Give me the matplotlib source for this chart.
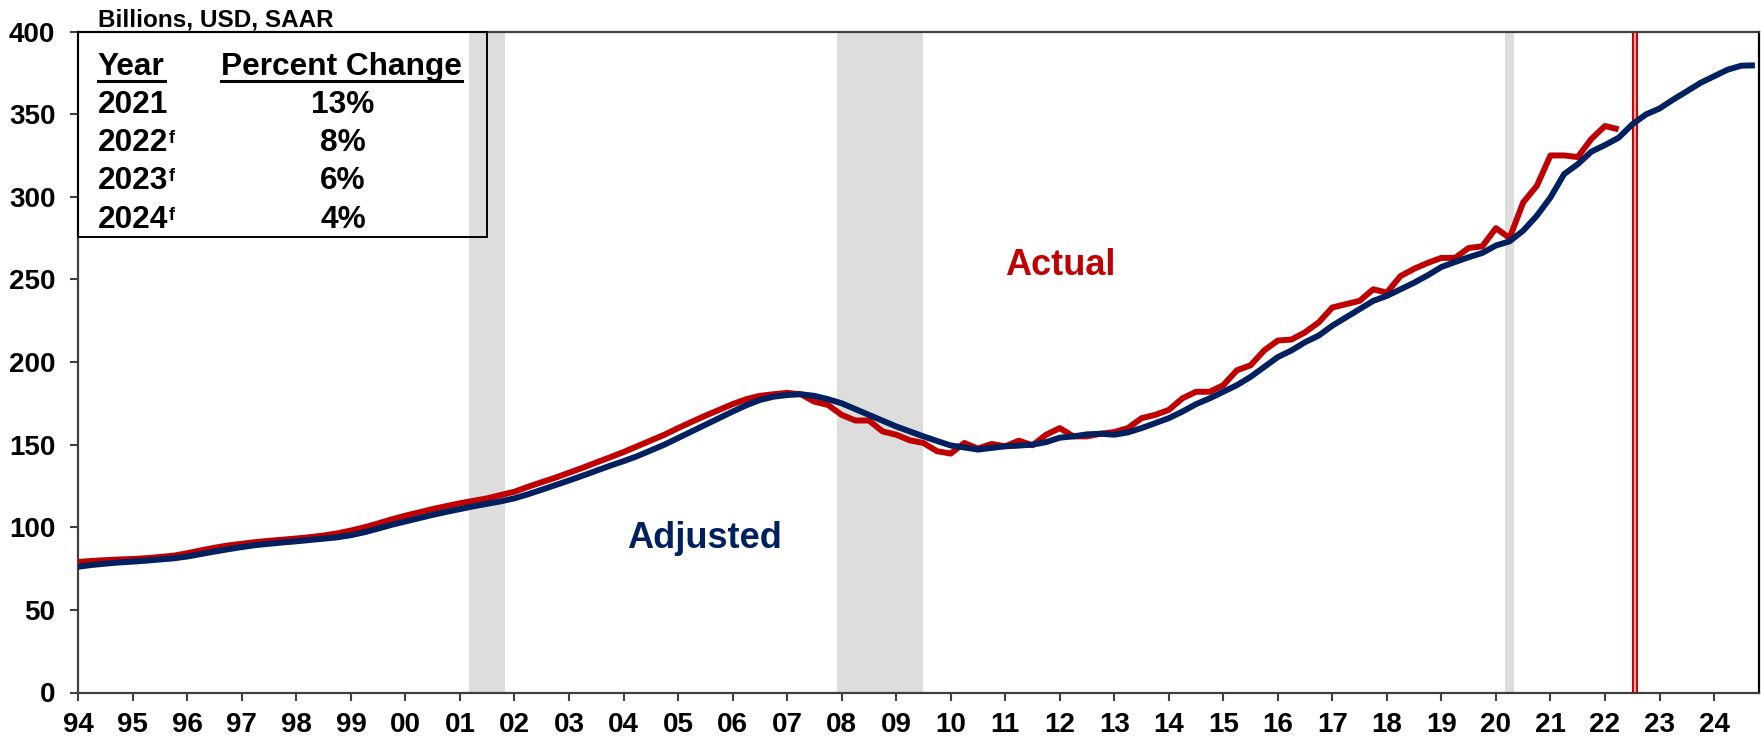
import numpy as np
import matplotlib
matplotlib.use("Agg")
import matplotlib.pyplot as plt
from matplotlib.lines import Line2D
from matplotlib.patches import Rectangle

plt.rcParams['font.family'] = ['Liberation Sans', 'DejaVu Sans']
plt.rcParams['font.weight'] = 'bold'

# quarterly data, 1994Q1 onward (billions USD, SAAR)
adjusted = [
    76.1, 77.2, 78.0, 78.7,
    79.2, 79.8, 80.5, 81.2,
    82.3, 83.8, 85.3, 86.7,
    88.0, 89.2, 90.0, 90.8,
    91.5, 92.3, 93.1, 93.9,
    95.2, 97.0, 99.2, 101.5,
    103.5, 105.5, 107.5, 109.3,
    111.0, 112.7, 114.2, 115.7,
    117.5, 120.0, 122.7, 125.5,
    128.3, 131.2, 134.2, 137.2,
    140.0, 143.0, 146.5, 150.0,
    154.0, 158.0, 162.0, 166.0,
    170.0, 173.8, 177.0, 179.0,
    180.0, 180.5, 179.5, 177.5,
    175.0, 171.5, 168.0, 164.5,
    161.0, 158.0, 155.0, 152.2,
    149.5, 148.3, 147.0, 148.0,
    149.0, 149.4, 150.0, 151.5,
    154.2, 155.0, 156.2, 156.6,
    156.0, 157.4, 160.0, 163.0,
    166.0, 170.0, 174.5, 178.0,
    182.0, 186.0, 191.0, 197.0,
    203.0, 207.0, 212.0, 216.0,
    222.0, 227.0, 232.0, 237.0,
    240.0, 244.0, 248.0, 252.5,
    257.5, 260.5, 263.4, 266.0,
    270.5, 273.0, 279.5, 288.5,
    299.6, 313.7, 319.7, 327.3,
    331.3, 335.7, 343.8, 349.8,
    353.4, 358.8, 363.8, 368.9,
    372.9, 376.9, 379.3, 379.5,
]
actual = [
    79.0, 79.6, 80.1, 80.5,
    80.8, 81.3, 82.0, 82.8,
    84.3, 86.0, 87.6, 89.0,
    90.0, 91.0, 91.8, 92.5,
    93.2, 94.0, 95.0, 96.3,
    98.0, 100.0, 102.3, 104.8,
    107.0, 109.0, 111.0, 112.8,
    114.5, 116.0, 117.5, 119.5,
    121.5, 124.5, 127.3, 130.0,
    133.0, 136.0, 139.2, 142.3,
    145.5, 149.0, 152.5, 156.0,
    160.0, 163.8, 167.5, 171.0,
    174.5, 177.5, 179.5, 180.5,
    181.3, 180.5, 176.0, 174.0,
    168.0, 164.6, 164.6, 158.0,
    156.0, 152.6, 151.0, 146.0,
    144.6, 151.0, 147.6, 150.4,
    149.0, 152.4, 149.6, 156.0,
    160.0, 155.0, 155.0, 156.6,
    157.6, 160.0, 166.0, 168.0,
    171.0, 178.0, 182.0, 182.0,
    186.0, 195.0, 198.0, 207.0,
    213.0, 213.6, 218.0, 224.0,
    233.0, 235.0, 237.0, 244.0,
    242.0, 252.0, 256.4, 260.0,
    263.0, 263.0, 269.0, 270.0,
    281.0, 275.0, 296.6, 306.6,
    325.0, 325.0, 324.0, 335.0,
    342.8, 340.8,
]
start_year = 1994
recessions = [(2001.17, 2001.83), (2007.92, 2009.5), (2020.17, 2020.33)]
forecast_line = 2022.55
tick_years = list(range(1994, 2025))
tick_labels = ['94', '95', '96', '97', '98', '99', '00', '01', '02', '03',
               '04', '05', '06', '07', '08', '09', '10', '11', '12', '13',
               '14', '15', '16', '17', '18', '19', '20', '21', '22', '23', '24']
table_years = ['2021', '2022', '2023', '2024']
table_forecast = [False, True, True, True]
table_changes = ['13%', '8%', '6%', '4%']

red = '#C00000'
navy = '#002060'
W, H = 1761, 740

t_adj = start_year + np.arange(len(adjusted)) / 4
t_act = start_year + np.arange(len(actual)) / 4

fig = plt.figure(figsize=(W / 100, H / 100), dpi=100)
ax = fig.add_axes([78.3 / W, 1 - 692.5 / H, (1759.3 - 78.3) / W, (692.5 - 31.5) / H])

for a, b in recessions:
    ax.axvspan(a, b, color='#DDDDDD', lw=0, zorder=0)

ax.axvline(forecast_line, color=red, lw=4.4, zorder=1)
ax.axvline(forecast_line, color='#E8A3A3', lw=1.6, zorder=1.1)

ax.plot(t_act, actual, color=red, lw=4.3, zorder=3, solid_capstyle='butt')
ax.plot(t_adj, adjusted, color=navy, lw=4.3, zorder=4, solid_capstyle='butt')

ax.set_xlim(1994, 2024.83)
ax.set_ylim(0, 400)
ax.set_yticks(np.arange(0, 401, 50))
ax.set_xticks(tick_years)
ax.set_xticklabels(tick_labels)
ax.tick_params(axis='both', colors='#404040', width=1.5, labelcolor='black', labelsize=20)
ax.tick_params(axis='y', length=5.5, pad=11)
ax.tick_params(axis='x', length=6, pad=8)
for s in ['left', 'bottom', 'top']:
    ax.spines[s].set_color('#404040')
    ax.spines[s].set_linewidth(1.6)
ax.spines['right'].set_color('black')
ax.spines['right'].set_linewidth(1.6)

fig.text(1005 / W, 1 - 275 / H, 'Actual', fontsize=26, color=red, va='baseline')
fig.text(627 / W, 1 - 548 / H, 'Adjusted', fontsize=26, color=navy, va='baseline')

fig.text(98 / W, 1 - 27 / H, 'Billions, USD, SAAR', fontsize=17.5, va='baseline')

# table box
fig.add_artist(Rectangle((78.3 / W, 1 - 237 / H), (487 - 78.3) / W, (237 - 31.7) / H,
                         transform=fig.transFigure, fill=False, ec='black', lw=1.4, zorder=5))

hdr_y = 75
h1 = fig.text(98 / W, 1 - hdr_y / H, 'Year', fontsize=22.8, va='baseline')
h2 = fig.text(221 / W, 1 - hdr_y / H, 'Percent Change', fontsize=22.8, va='baseline')
row_y = [112.7, 151.0, 189.3, 227.6]
for yr, fc, ch, y in zip(table_years, table_forecast, table_changes, row_y):
    t = fig.text(98 / W, 1 - y / H, yr, fontsize=22.8, va='baseline')
    if fc:
        fig.add_artist(plt.Annotation('f', xy=(1, 1), xycoords=t, xytext=(0.3, -1.5),
                                      textcoords='offset points', ha='left', va='top',
                                      fontsize=13))
    fig.text(343 / W, 1 - y / H, ch, fontsize=22.8, va='baseline', ha='center')

fig.canvas.draw()
r = fig.canvas.get_renderer()
for h in (h1, h2):
    bb = h.get_window_extent(r)
    uy = (H - hdr_y - 5.5) / H
    fig.add_artist(Line2D([bb.x0 / W, bb.x1 / W], [uy, uy], transform=fig.transFigure,
                          color='black', lw=2.2))

fig.savefig('out.png', dpi=100)
